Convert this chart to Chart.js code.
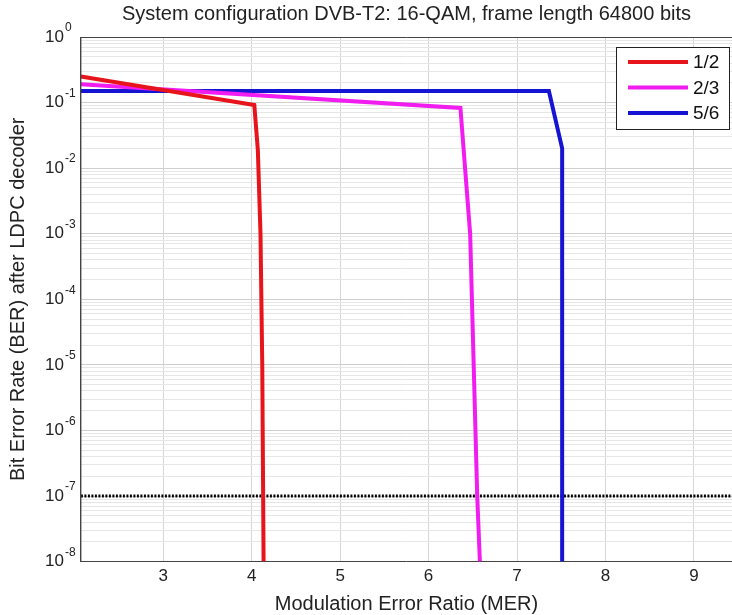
<!DOCTYPE html>
<html>
<head>
<meta charset="utf-8">
<script src="https://cdn.jsdelivr.net/npm/chart.js@4/dist/chart.umd.min.js"></script>
<style>
    body { margin: 0; background: #fff; }
    #wrap { position: relative; width: 732px; height: 615px; }
</style>
</head>
<body>
<div id="wrap"><canvas id="berChart" width="732" height="615"></canvas></div>
<script>
// values
const seriesLabels = ['1/2', '2/3', '5/6'];
const seriesColors = ['#e8141b', '#f01cf0', '#1414d2'];
const mer12 = [2.07, 4.03, 4.07, 4.10, 4.12, 4.135];
const ber12 = [0.25, 0.092, 0.019, 1e-3, 1e-5, 1e-8];
const mer23 = [2.07, 6.36, 6.47, 6.51, 6.55, 6.58];
const ber23 = [0.19, 0.083, 1e-3, 1e-5, 1e-7, 1e-8];
const mer56 = [2.07, 7.36, 7.51, 7.51];
const ber56 = [0.15, 0.15, 0.02, 1e-8];
const refMer = [2.07, 9.43];
const refBer = [1e-7, 1e-7];
const xTicks = [3, 4, 5, 6, 7, 8, 9];
const yExponents = [0, -1, -2, -3, -4, -5, -6, -7, -8];

const FONT = '"Liberation Sans", Arial, sans-serif';
const Y_TICK_PAD = 17;

function points(xs, ys) {
    return xs.map((x, i) => ({ x: x, y: ys[i] }));
}

function isDecade(value) {
    const e = Math.round(Math.log10(value));
    return Math.abs(value - Math.pow(10, e)) / value < 1e-6 && yExponents.includes(e);
}

// frame, exponents and legend box like matlab
const framePlugin = {
    id: 'frame',
    afterDraw(chart) {
        const ctx = chart.ctx;
        const a = chart.chartArea;
        const yScale = chart.scales.y;
        ctx.save();
        ctx.strokeStyle = '#444';
        ctx.lineWidth = 1;
        ctx.beginPath();
        ctx.moveTo(a.left, a.bottom);
        ctx.lineTo(a.left, a.top + 0.5);
        ctx.lineTo(a.right, a.top + 0.5);
        ctx.stroke();

        // exponents of the 10^n tick labels
        ctx.fillStyle = '#222';
        ctx.font = '12px ' + FONT;
        ctx.textAlign = 'left';
        ctx.textBaseline = 'middle';
        yExponents.forEach(function (e) {
            const py = yScale.getPixelForValue(Math.pow(10, e));
            ctx.fillText(String(e), a.left - Y_TICK_PAD + 1, py - 9);
        });

        // legend
        const bx = 616, by = 47, bw = 113, bh = 82;
        ctx.fillStyle = '#fff';
        ctx.fillRect(bx, by, bw, bh);
        ctx.strokeStyle = '#222';
        ctx.strokeRect(bx + 0.5, by + 0.5, bw, bh);
        ctx.font = '19px ' + FONT;
        ctx.textBaseline = 'middle';
        for (let i = 0; i < seriesLabels.length; i++) {
            const ly = 62 + i * 25.5;
            ctx.strokeStyle = seriesColors[i];
            ctx.lineWidth = 4;
            ctx.beginPath();
            ctx.moveTo(628, ly);
            ctx.lineTo(688, ly);
            ctx.stroke();
            ctx.fillStyle = '#111';
            ctx.fillText(seriesLabels[i], 693, ly + 1);
        }
        ctx.restore();
    }
};

const datasets = [
    { label: seriesLabels[0], data: points(mer12, ber12), borderColor: seriesColors[0] },
    { label: seriesLabels[1], data: points(mer23, ber23), borderColor: seriesColors[1] },
    { label: seriesLabels[2], data: points(mer56, ber56), borderColor: seriesColors[2] }
].map(d => Object.assign(d, { borderWidth: 4, pointRadius: 0, fill: false, tension: 0 }));
datasets.push({
    label: 'limit',
    data: points(refMer, refBer),
    borderColor: '#000',
    borderWidth: 3,
    borderDash: [2, 1.5],
    pointRadius: 0,
    fill: false
});

var ctx = document.getElementById('berChart').getContext('2d');
var berChart = new Chart(ctx, {
    type: 'line',
    data: { datasets: datasets },
    plugins: [framePlugin],
    options: {
        responsive: false,
        animation: false,
        layout: { padding: { left: -9, right: 0, top: 0, bottom: -1 } },
        plugins: {
            legend: { display: false },
            tooltip: { enabled: false },
            title: {
                display: true,
                fullSize: false,
                text: 'System configuration DVB-T2: 16-QAM, frame length 64800 bits',
                color: '#222',
                font: { family: FONT, size: 20, weight: 'normal' },
                padding: { top: 2, bottom: 11 }
            }
        },
        scales: {
            x: {
                type: 'linear',
                min: 2.07,
                max: 9.43,
                afterBuildTicks: function (scale) {
                    scale.ticks = xTicks.map(v => ({ value: v }));
                },
                grid: { color: '#d6d6d6', drawTicks: false },
                border: { color: '#444' },
                ticks: {
                    color: '#222',
                    padding: 5,
                    font: { family: FONT, size: 17 }
                },
                title: {
                    display: true,
                    text: 'Modulation Error Ratio (MER)',
                    color: '#222',
                    font: { family: FONT, size: 20 },
                    padding: { top: 0, bottom: 0 }
                }
            },
            y: {
                type: 'logarithmic',
                min: 1e-8,
                max: 1,
                afterBuildTicks: function (scale) {
                    const t = [];
                    for (let e = -8; e < 0; e++) {
                        for (let m = 1; m < 10; m++) {
                            t.push({ value: m * Math.pow(10, e), major: m === 1 });
                        }
                    }
                    t.push({ value: 1, major: true });
                    scale.ticks = t;
                },
                grid: {
                    drawTicks: false,
                    color: function (c) {
                        return c.tick && c.tick.major ? '#cfcfcf' : '#e6e6e6';
                    }
                },
                border: { color: '#444' },
                ticks: {
                    color: '#222',
                    padding: Y_TICK_PAD,
                    autoSkip: false,
                    font: { family: FONT, size: 17 },
                    callback: function (value) {
                        return isDecade(value) ? '10' : '';
                    }
                },
                title: {
                    display: true,
                    text: 'Bit Error Rate (BER) after LDPC decoder',
                    color: '#222',
                    font: { family: FONT, size: 20, lineHeight: 1 },
                    padding: { top: 17, bottom: 0 }
                }
            }
        }
    }
});
</script>
</body>
</html>
